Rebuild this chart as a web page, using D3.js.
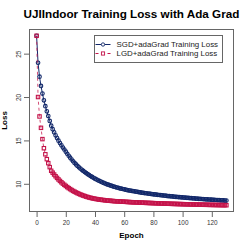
<!DOCTYPE html>
<html>
<head>
<meta charset="UTF-8">
<script src="https://d3js.org/d3.v7.min.js"></script>
<style>
  * { margin: 0; padding: 0; }
  body { background: #fff; font-family: "Liberation Sans", Arial, sans-serif; }
</style>
</head>
<body>
<div id="chart"></div>
<script>
// training loss per epoch
const sgdLoss = [
  27.06, 23.95, 22.35, 21.28, 20.40, 19.62, 18.95, 18.35, 17.80, 17.25,
  16.70, 16.30, 15.93, 15.59, 15.27, 14.97, 14.69, 14.43, 14.18, 13.95,
  13.70, 13.46, 13.23, 13.01, 12.80, 12.60, 12.41, 12.23, 12.06, 11.90,
  11.75, 11.61, 11.48, 11.35, 11.23, 11.11, 11.00, 10.89, 10.79, 10.69,
  10.59, 10.50, 10.41, 10.33, 10.25, 10.17, 10.10, 10.03, 9.96, 9.90,
  9.84, 9.78, 9.72, 9.67, 9.62, 9.57, 9.52, 9.48, 9.44, 9.40,
  9.36, 9.32, 9.28, 9.25, 9.22, 9.19, 9.16, 9.13, 9.10, 9.07,
  9.04, 9.01, 8.98, 8.96, 8.93, 8.91, 8.88, 8.86, 8.84, 8.81,
  8.79, 8.77, 8.75, 8.73, 8.71, 8.69, 8.67, 8.65, 8.63, 8.61,
  8.59, 8.57, 8.56, 8.54, 8.52, 8.50, 8.49, 8.47, 8.46, 8.44,
  8.43, 8.41, 8.40, 8.38, 8.37, 8.35, 8.34, 8.33, 8.31, 8.30,
  8.29, 8.27, 8.26, 8.25, 8.24, 8.22, 8.21, 8.20, 8.19, 8.18,
  8.17, 8.15, 8.14, 8.13, 8.12, 8.11, 8.10, 8.09, 8.08, 8.07,
  8.06
];
const lgdLoss = [
  27.06, 20.00, 17.76, 16.45, 15.15, 14.10, 13.40, 12.84, 12.38, 11.92,
  11.50, 11.28, 11.07, 10.87, 10.68, 10.50, 10.33, 10.17, 10.02, 9.88,
  9.75, 9.62, 9.50, 9.39, 9.28, 9.18, 9.09, 9.00, 8.92, 8.84,
  8.77, 8.70, 8.64, 8.58, 8.52, 8.47, 8.42, 8.38, 8.34, 8.30,
  8.27, 8.24, 8.21, 8.18, 8.16, 8.14, 8.12, 8.10, 8.08, 8.06,
  8.05, 8.03, 8.02, 8.00, 7.99, 7.98, 7.97, 7.96, 7.95, 7.94,
  7.93, 7.92, 7.91, 7.90, 7.89, 7.88, 7.87, 7.86, 7.86, 7.85,
  7.84, 7.83, 7.83, 7.82, 7.81, 7.80, 7.80, 7.79, 7.78, 7.78,
  7.77, 7.76, 7.76, 7.75, 7.74, 7.74, 7.73, 7.72, 7.72, 7.71,
  7.71, 7.70, 7.69, 7.69, 7.68, 7.68, 7.67, 7.67, 7.66, 7.66,
  7.65, 7.65, 7.64, 7.64, 7.63, 7.63, 7.62, 7.62, 7.61, 7.61,
  7.60, 7.60, 7.60, 7.59, 7.59, 7.58, 7.58, 7.58, 7.57, 7.57,
  7.57, 7.56, 7.56, 7.56, 7.55, 7.55, 7.55, 7.54, 7.54, 7.54,
  7.53
];
const epochs = d3.range(sgdLoss.length);
const xTicks = [0, 20, 40, 60, 80, 100, 120];
const yTicks = [10, 15, 20, 25];
const seriesNames = ["SGD+adaGrad Training Loss", "LGD+adaGrad Training Loss"];

const W = 249, H = 249;
const margin = {top: 29, right: 15, bottom: 37, left: 29};
const navy = "#12286a", crimson = "#c4134a";

const svg = d3.select("#chart").append("svg")
  .attr("width", W).attr("height", H);

// R style 4% padding on both axes
const xExt = d3.extent(epochs), xPad = (xExt[1] - xExt[0]) * 0.04;
const allY = sgdLoss.concat(lgdLoss);
const yExt = d3.extent(allY), yPad = (yExt[1] - yExt[0]) * 0.04;

const x = d3.scaleLinear()
  .domain([xExt[0] - xPad, xExt[1] + xPad])
  .range([margin.left, W - margin.right]);
const y = d3.scaleLinear()
  .domain([yExt[0] - yPad, yExt[1] + yPad])
  .range([H - margin.bottom, margin.top]);

// title
svg.append("text")
  .attr("x", (margin.left + W - margin.right) / 2)
  .attr("y", 17.5)
  .attr("text-anchor", "middle")
  .style("font-size", "11.7px")
  .style("font-weight", "bold")
  .text("UJIIndoor Training Loss with Ada Grad");

// axes
const xAxis = svg.append("g")
  .attr("transform", `translate(0,${H - margin.bottom})`)
  .call(d3.axisBottom(x).tickValues(xTicks).tickSize(5).tickPadding(3));
xAxis.select(".domain").remove();
xAxis.selectAll("line").attr("stroke", "#666");
xAxis.selectAll("text").style("font-size", "6.4px").attr("fill", "#333")
  .attr("font-family", "Liberation Sans, Arial, sans-serif");

const yAxis = svg.append("g")
  .attr("transform", `translate(${margin.left},0)`)
  .call(d3.axisLeft(y).tickValues(yTicks).tickSize(5).tickPadding(3));
yAxis.select(".domain").remove();
yAxis.selectAll("line").attr("stroke", "#666");
yAxis.selectAll("text")
  .style("font-size", "6.4px").attr("fill", "#333")
  .attr("font-family", "Liberation Sans, Arial, sans-serif")
  .attr("text-anchor", "middle")
  .attr("transform", "rotate(-90)")
  .attr("x", 0).attr("dy", 0)
  .attr("y", -8.5);

// plot box
svg.append("rect")
  .attr("x", margin.left + 0.5).attr("y", margin.top + 0.5)
  .attr("width", W - margin.right - margin.left - 1)
  .attr("height", H - margin.bottom - margin.top - 1)
  .attr("fill", "none").attr("stroke", "#666");

// axis titles
svg.append("text")
  .attr("x", (margin.left + W - margin.right) / 2)
  .attr("y", 238)
  .attr("text-anchor", "middle")
  .style("font-size", "8px").style("font-weight", "bold")
  .text("Epoch");
svg.append("text")
  .attr("transform", `translate(7.2,${(margin.top + H - margin.bottom) / 2}) rotate(-90)`)
  .attr("text-anchor", "middle")
  .style("font-size", "8px").style("font-weight", "bold")
  .text("Loss");

const line = d3.line().x((d, i) => x(epochs[i])).y(d => y(d));

// SGD: solid line + open circles
svg.append("path").datum(sgdLoss)
  .attr("d", line).attr("fill", "none")
  .attr("stroke", navy).attr("stroke-width", 1);
svg.selectAll(".sgd").data(sgdLoss).enter().append("circle")
  .attr("class", "sgd")
  .attr("cx", (d, i) => x(epochs[i])).attr("cy", d => y(d))
  .attr("r", 1.8).attr("fill", "none")
  .attr("stroke", navy).attr("stroke-width", 1.1);

// LGD: dashed line + open squares
svg.append("path").datum(lgdLoss)
  .attr("d", line).attr("fill", "none")
  .attr("stroke", crimson).attr("stroke-width", 1)
  .attr("stroke-opacity", 0.75)
  .attr("stroke-dasharray", "3,3");
svg.selectAll(".lgd").data(lgdLoss).enter().append("rect")
  .attr("class", "lgd")
  .attr("x", (d, i) => x(epochs[i]) - 1.7).attr("y", d => y(d) - 1.7)
  .attr("width", 3.4).attr("height", 3.4).attr("fill", "none")
  .attr("stroke", crimson).attr("stroke-width", 1.1);

// legend
const leg = svg.append("g").attr("transform", "translate(94.5,35.5)");
leg.append("rect").attr("width", 128).attr("height", 27)
  .attr("fill", "#fff").attr("stroke", "#666");
seriesNames.forEach((name, i) => {
  const g = leg.append("g").attr("transform", `translate(0,${9 + i * 9})`);
  const col = i === 0 ? navy : crimson;
  g.append("line").attr("x1", 1).attr("x2", 16).attr("y1", 0).attr("y2", 0)
    .attr("stroke", col).attr("stroke-width", 1)
    .attr("stroke-dasharray", i === 0 ? null : "3,3");
  if (i === 0) {
    g.append("circle").attr("cx", 8.5).attr("cy", 0).attr("r", 1.7)
      .attr("fill", "#fff").attr("stroke", col).attr("stroke-width", 0.9);
  } else {
    g.append("rect").attr("x", 6.9).attr("y", -1.6).attr("width", 3.2).attr("height", 3.2)
      .attr("fill", "#fff").attr("stroke", col).attr("stroke-width", 0.9);
  }
  g.append("text").attr("x", 22).attr("y", 2.8)
    .style("font-size", "7.9px").attr("fill", "#222")
    .text(name);
});
</script>
</body>
</html>
